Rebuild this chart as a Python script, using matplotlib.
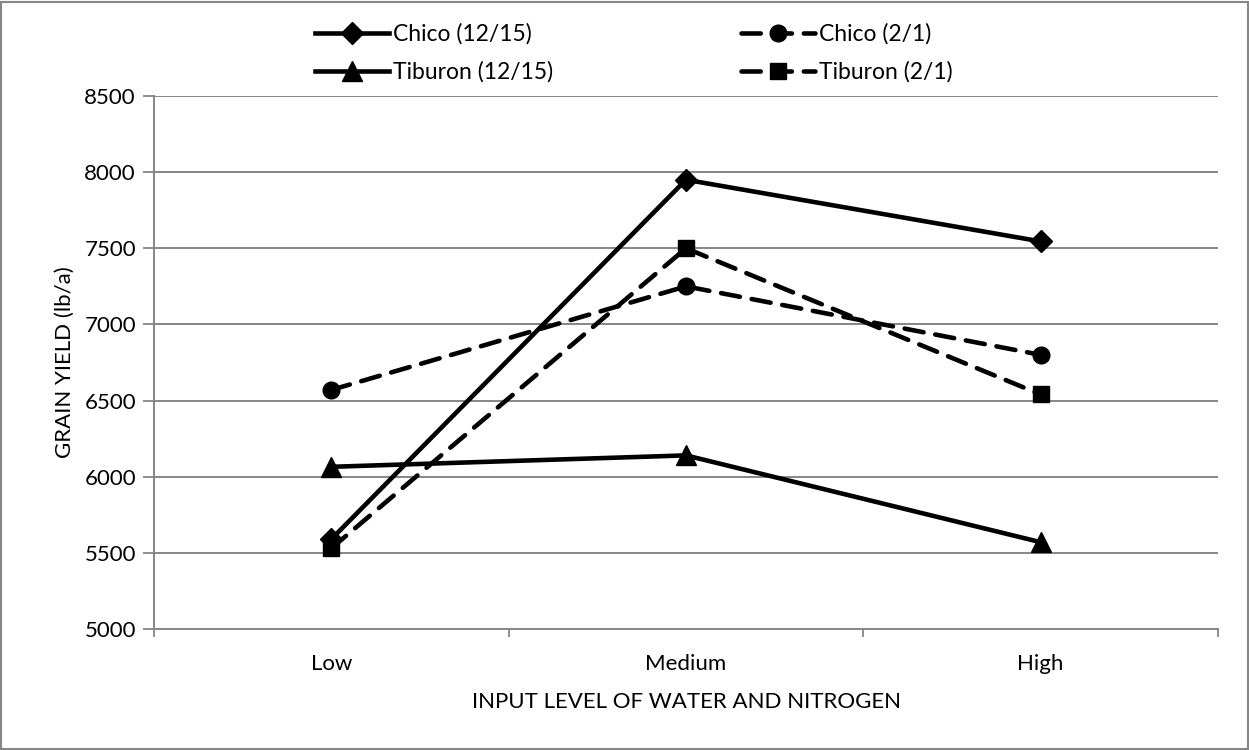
"""
Grain yield vs input level of water and nitrogen, by variety and planting date
"""

import matplotlib
matplotlib.use('Agg')
import matplotlib.pyplot as plt
from matplotlib.patches import Rectangle

# Data
levels = ['Low', 'Medium', 'High']
chico_1215 = [5590, 7950, 7545]
chico_21 = [6570, 7250, 6800]
tiburon_1215 = [6065, 6140, 5570]
tiburon_21 = [5530, 7500, 6540]
y_ticks = [5000, 5500, 6000, 6500, 7000, 7500, 8000, 8500]

plt.rcParams['font.family'] = ['Lato', 'DejaVu Sans']
grid_grey = '#868686'

fig = plt.figure(figsize=(12.49, 7.5), dpi=100)
ax = fig.add_axes([154 / 1249, 1 - 629 / 750, 1064 / 1249, 533 / 750])

x = list(range(len(levels)))
lw = 3.3
dash = (4.2, 2.6)

l1, = ax.plot(x, chico_1215, color='black', lw=lw, marker='D', markersize=11,
              label='Chico (12/15)', zorder=4)
l2, = ax.plot(x, chico_21, color='black', lw=lw, marker='o', markersize=12,
              dashes=dash, dash_capstyle='round', label='Chico (2/1)', zorder=4)
l3, = ax.plot(x, tiburon_1215, color='black', lw=lw, marker='^', markersize=14,
              label='Tiburon (12/15)', zorder=4)
l4, = ax.plot(x, tiburon_21, color='black', lw=lw, marker='s', markersize=11.5,
              dashes=dash, dash_capstyle='round', label='Tiburon (2/1)', zorder=4)

ax.set_xlim(-0.5, len(levels) - 0.5)
ax.set_ylim(5000, 8500)
ax.set_yticks(y_ticks)
ax.set_xticks(x)
ax.set_xticklabels(levels, fontsize=16)
ax.set_xticks([i - 0.5 for i in range(len(levels) + 1)], minor=True)
ax.tick_params(axis='x', which='major', length=0, pad=18)
ax.tick_params(axis='x', which='minor', length=6, width=1.3, color=grid_grey)
ax.tick_params(axis='y', length=8, width=1.3, color=grid_grey, labelsize=16, pad=5)

ax.grid(True, axis='y', color=grid_grey, lw=1.4)
ax.set_axisbelow(True)
for side in ['top', 'right']:
    ax.spines[side].set_visible(False)
for side in ['left', 'bottom']:
    ax.spines[side].set_color(grid_grey)
    ax.spines[side].set_linewidth(1.4)

ax.set_ylabel('GRAIN YIELD (lb/a)', fontsize=16, labelpad=7)
ax.set_xlabel('INPUT LEVEL OF WATER AND NITROGEN', fontsize=16, labelpad=13)

# column-wise fill, so order handles to get Chico on the top row
ax.legend([l1, l3, l2, l4], [l.get_label() for l in (l1, l3, l2, l4)],
          loc='center', bbox_to_anchor=(634 / 1249, 1 - 53 / 750),
          bbox_transform=fig.transFigure, ncol=2, frameon=False,
          fontsize=16.5, handlelength=3.2, handletextpad=0.2,
          columnspacing=8.2, labelspacing=0.7, borderpad=0)

# outer chart border
fig.patches.append(Rectangle((0.001, 0.001), 0.998, 0.997, transform=fig.transFigure,
                             fill=False, edgecolor=grid_grey, lw=1.5))

plt.savefig('out.png', dpi=100)
plt.close()
